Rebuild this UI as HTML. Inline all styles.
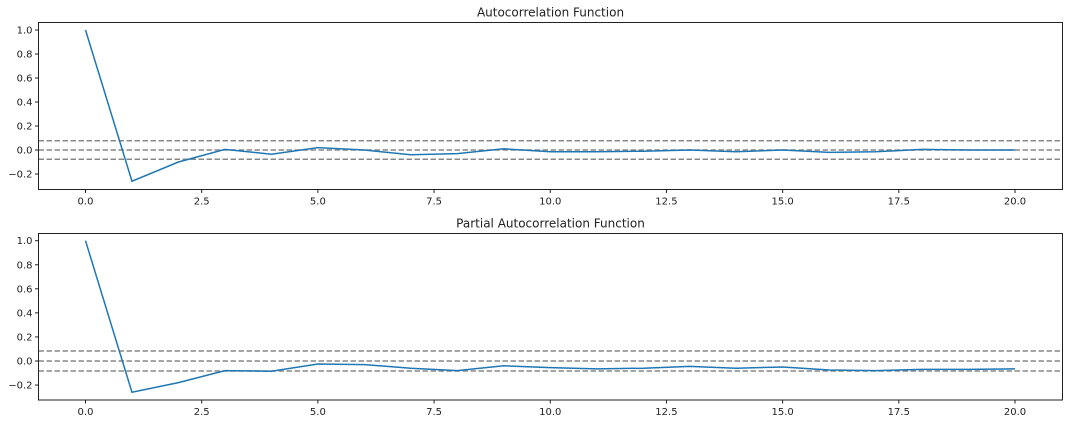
<!DOCTYPE html>
<html><head><meta charset="utf-8"><style>
body{margin:0;background:#fff;font-family:"Liberation Sans","DejaVu Sans",sans-serif}
svg text{font-family:"DejaVu Sans","Liberation Sans",sans-serif;fill:#222}
</style></head><body>
<svg id="c" width="1072" height="424"></svg>
<script>
const lags=[0,1,2,3,4,5,6,7,8,9,10,11,12,13,14,15,16,17,18,19,20];
const acfValues=[1,-0.26,-0.1,0.005,-0.035,0.02,0,-0.04,-0.03,0.01,-0.015,-0.015,-0.01,0,-0.015,0,-0.02,-0.015,0.005,0,0];
const pacfValues=[1,-0.26,-0.18,-0.08,-0.085,-0.025,-0.03,-0.06,-0.08,-0.04,-0.055,-0.065,-0.06,-0.045,-0.06,-0.05,-0.075,-0.08,-0.07,-0.07,-0.065];
const acfConf=0.077;
const pacfConf=0.083;
const xTicks=[0,2.5,5,7.5,10,12.5,15,17.5,20];
const yTicks=[1.0,0.8,0.6,0.4,0.2,0.0,-0.2];
const NS='http://www.w3.org/2000/svg';
const svg=document.getElementById('c');
function mk(t,a,p){const e=document.createElementNS(NS,t);for(const k in a)e.setAttribute(k,a[k]);(p||svg).appendChild(e);return e;}
function panel(name,title,vals,conf,top,bot,y1px,y0px){
  const L=38.5,R=1062.5;
  const X=v=>85.5+(v-0)*(1015-85.5)/20;
  const Y=v=>y0px+(y1px-y0px)*v;
  const g=mk('g',{});
  
  
  const t=mk('text',{x:(L+R)/2,y:top-6,'text-anchor':'middle','font-size':12},g);
  t.textContent=title;
  
  
  [conf,0,-conf].forEach((c,i)=>{
    const l=mk('line',{x1:L,x2:R,y1:Y(c),y2:Y(c),stroke:'#888','stroke-width':1.5,'stroke-dasharray':'5.5,2.5'},g);
    
    
  });
  const pts=lags.map((l,i)=>X(l)+','+Y(vals[i])).join(' ');
  const pl=mk('polyline',{points:pts,fill:'none',stroke:'#1f77b4','stroke-width':1.5},g);
  
  
  const fr=mk('rect',{x:L,y:top,width:R-L,height:bot-top,fill:'none',stroke:'#222','stroke-width':1},g);
  
  
  xTicks.forEach(v=>{
    mk('line',{x1:X(v),x2:X(v),y1:bot,y2:bot+3.5,stroke:'#222'},g);
    const tx=mk('text',{x:X(v),y:bot+15,'text-anchor':'middle','font-size':10},g);
    tx.textContent=v.toFixed(1);
    
    
  });
  yTicks.forEach(v=>{
    mk('line',{x1:L-3.5,x2:L,y1:Y(v),y2:Y(v),stroke:'#222'},g);
    const ty=mk('text',{x:L-6,y:Y(v)+3.5,'text-anchor':'end','font-size':10},g);
    ty.textContent=(v<0?'\u2212':'')+Math.abs(v).toFixed(1);
    
    
  });
}
panel('acf','Autocorrelation Function',acfValues,acfConf,22.5,189.5,30,150);
panel('pacf','Partial Autocorrelation Function',pacfValues,pacfConf,233.5,400,240.7,361);
</script>
</body></html>
